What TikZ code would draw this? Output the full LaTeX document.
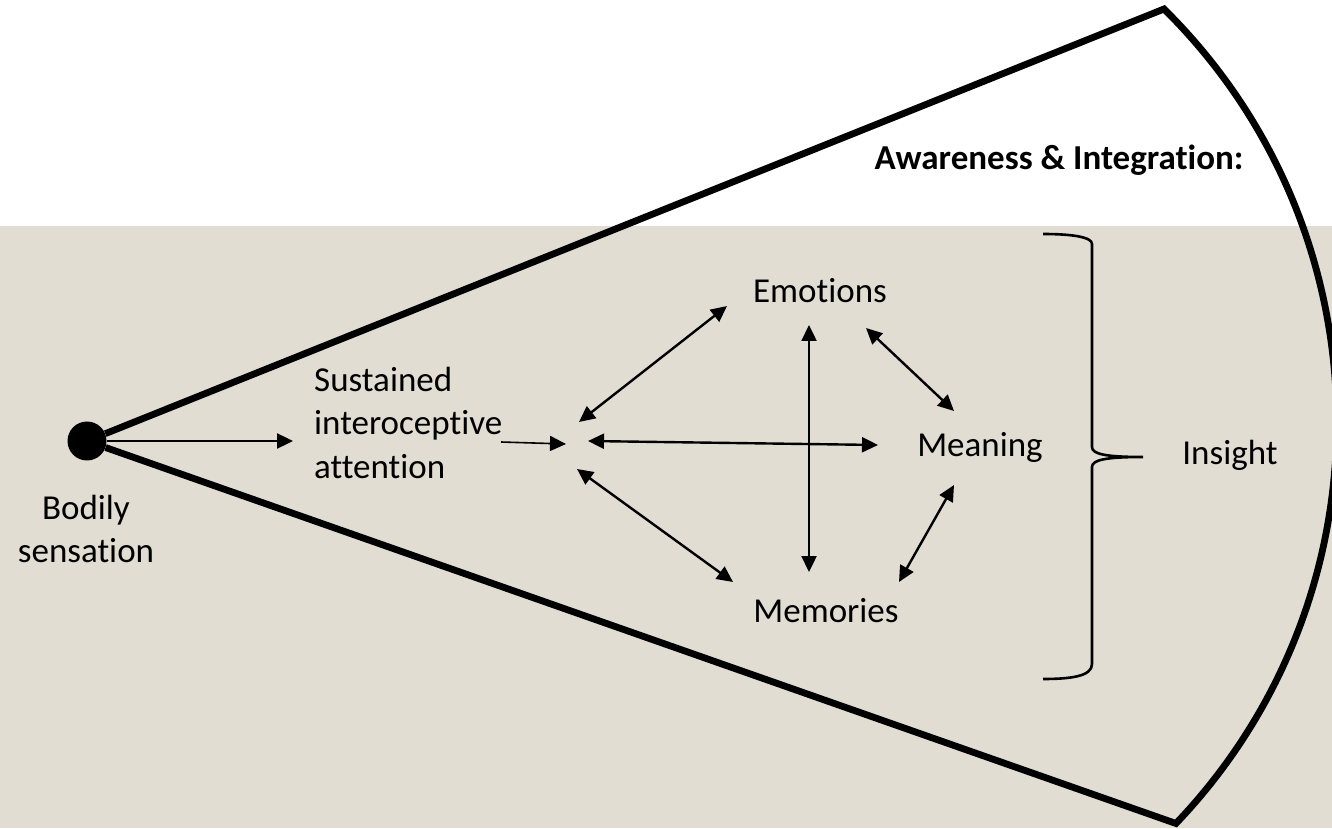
\documentclass[tikz,border=0pt]{standalone}
\usepackage{fontspec}
\setmainfont{Carlito}[Ligatures={NoCommon,NoRequired,NoContextual},Contextuals=NoAlternate]
\usetikzlibrary{arrows.meta}
\definecolor{sand}{RGB}{226,221,211}
\begin{document}
\begin{tikzpicture}[x=1pt,y=1pt,
  label/.style={inner sep=0pt,font=\fontsize{35}{43}\selectfont},
  wedge/.style={line width=6.8pt,line join=miter},
  twoway/.style={line width=2.4pt,{Triangle[length=16pt,width=15pt]}-{Triangle[length=16pt,width=15pt]}},
  oneway/.style={line width=2.4pt,-{Triangle[length=16pt,width=15pt]}},
  thinway/.style={line width=1.6pt,-{Triangle[length=16pt,width=15pt]}},
  bracket/.style={line width=2.6pt}]
\useasboundingbox (0,0) rectangle (1332,828);
% page background: white band on top, sand below
\fill[white] (0,0) rectangle (1332,828);
\fill[sand] (0,0) rectangle (1332,602);

% origin dot and the widening cone
\node[circle,fill=black,minimum size=39pt,inner sep=0pt] (dot) at (87,387) {};
\coordinate (tipU) at (1164,819);
\coordinate (tipL) at (1176,5);
\draw[wedge] (dot) -- (tipU) arc[start angle=45.35,end angle=-43.67,radius=581pt] -- (dot);

% labels (multi-line nodes sit on the baseline of their last line)
\node[label,align=center,anchor=base] (body) at (86,266) {Bodily\\sensation};
\node[label,align=left,anchor=base west] (sus) at (314,350) {Sustained\\interoceptive\\attention};
\node[label,anchor=base] (emo) at (820,525) {Emotions};
\node[label,anchor=base] (mean) at (980,371) {Meaning};
\node[label,anchor=base] (mem) at (826,206) {Memories};
\node[label,anchor=base] (ins) at (1230,363) {Insight};
\node[label,anchor=base,font=\fontsize{35}{43}\selectfont\bfseries] (aware) at (1059,658) {Awareness \& Integration:};

% arrow end points around the central hub
\coordinate (hubIn) at (566,384);
\coordinate (hubE) at (579,406);
\coordinate (hubM) at (588,387);
\coordinate (hubR) at (577,359);
\coordinate (emoW) at (727,522);
\coordinate (emoS) at (809,503);
\coordinate (emoE) at (866,500);
\coordinate (meanW) at (878,383);
\coordinate (meanN) at (954,417);
\coordinate (meanS) at (954,343);
\coordinate (memW) at (733,246);
\coordinate (memN) at (809,256);
\coordinate (memE) at (899,246);
\coordinate (susIn) at (501,386);

% connectors
\draw[oneway] (dot.east) -- ([xshift=-21pt]dot.east -| sus.west);
\draw[thinway] (susIn) -- (hubIn);
\draw[twoway] (hubE) -- (emoW);
\draw[twoway] (hubM) -- (meanW);
\draw[twoway] (hubR) -- (memW);
\draw[twoway] (emoS) -- (memN);
\draw[twoway] (emoE) -- (meanN);
\draw[twoway] (meanS) -- (memE);

% right-hand curly bracket gathering the three outcomes
\draw[bracket] (1043,594) .. controls (1072,594) and (1092,591) .. (1092,584)
  -- (1092,381) .. controls (1092,374) and (1105,371) .. (1143,371)
  .. controls (1105,371) and (1092,368) .. (1092,361)
  -- (1092,164) .. controls (1092,152) and (1072,149) .. (1043,149);
\end{tikzpicture}
\end{document}
